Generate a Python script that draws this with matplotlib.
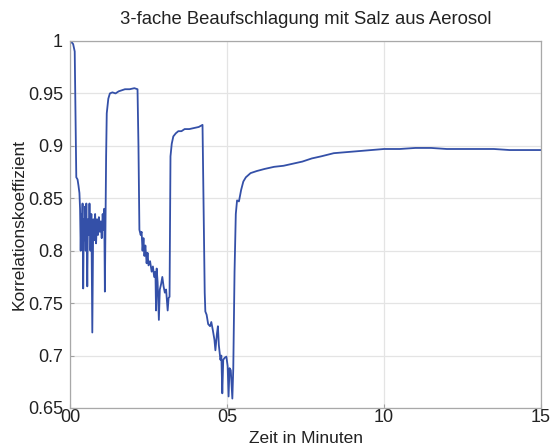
import matplotlib
matplotlib.use("Agg")
import matplotlib.pyplot as plt

plt.rcParams['font.family'] = ['Liberation Sans', 'DejaVu Sans']

# Zeit in Minuten und Korrelationskoeffizient
zeit = [0.00, 0.05, 0.10, 0.15, 0.18, 0.20, 0.24, 0.27, 0.30, 0.32,
        0.34, 0.36, 0.38, 0.40, 0.42, 0.44, 0.46, 0.48, 0.50, 0.52,
        0.55, 0.57, 0.60, 0.62, 0.65, 0.68, 0.71, 0.74, 0.77, 0.80,
        0.83, 0.86, 0.89, 0.92, 0.95, 0.98, 1.01, 1.04, 1.07, 1.09,
        1.11, 1.13, 1.15, 1.17, 1.22, 1.27, 1.35, 1.45, 1.55, 1.65,
        1.75, 1.90, 2.05, 2.15, 2.18, 2.21, 2.25, 2.28, 2.31, 2.34,
        2.37, 2.40, 2.44, 2.47, 2.50, 2.55, 2.60, 2.64, 2.68, 2.72,
        2.74, 2.76, 2.79, 2.83, 2.86, 2.90, 2.94, 2.98, 3.02, 3.06,
        3.11, 3.14, 3.17, 3.20, 3.24, 3.29, 3.37, 3.45, 3.55, 3.65,
        3.80, 3.95, 4.10, 4.22, 4.25, 4.29, 4.31, 4.35, 4.40, 4.46,
        4.50, 4.55, 4.60, 4.63, 4.68, 4.71, 4.74, 4.79, 4.82, 4.85,
        4.88, 4.93, 4.98, 5.02, 5.05, 5.08, 5.12, 5.17, 5.20, 5.24,
        5.28, 5.32, 5.38, 5.45, 5.52, 5.60, 5.75, 5.95, 6.20, 6.50,
        6.80, 7.10, 7.40, 7.70, 8.00, 8.40, 8.80, 9.20, 9.60, 10.00,
        10.50, 11.00, 11.50, 12.00, 12.50, 13.00, 13.50, 14.00, 14.50, 15.00]
korr = [0.998, 0.999, 0.997, 0.990, 0.920, 0.870, 0.868, 0.862, 0.855, 0.840,
        0.800, 0.835, 0.820, 0.845, 0.764, 0.830, 0.810, 0.842, 0.800, 0.845,
        0.766, 0.830, 0.815, 0.845, 0.800, 0.835, 0.722, 0.830, 0.810, 0.835,
        0.807, 0.830, 0.815, 0.832, 0.818, 0.828, 0.812, 0.835, 0.820, 0.840,
        0.761, 0.830, 0.890, 0.931, 0.945, 0.950, 0.951, 0.950, 0.952, 0.953,
        0.954, 0.954, 0.955, 0.954, 0.900, 0.820, 0.815, 0.818, 0.800, 0.812,
        0.795, 0.805, 0.788, 0.798, 0.786, 0.790, 0.780, 0.785, 0.775, 0.780,
        0.743, 0.783, 0.770, 0.734, 0.763, 0.768, 0.775, 0.766, 0.760, 0.763,
        0.743, 0.755, 0.756, 0.890, 0.902, 0.909, 0.912, 0.914, 0.914, 0.916,
        0.916, 0.917, 0.918, 0.920, 0.850, 0.760, 0.742, 0.739, 0.730, 0.728,
        0.732, 0.724, 0.715, 0.705, 0.721, 0.728, 0.710, 0.696, 0.700, 0.664,
        0.696, 0.698, 0.699, 0.690, 0.661, 0.688, 0.686, 0.659, 0.688, 0.780,
        0.835, 0.848, 0.847, 0.858, 0.866, 0.870, 0.874, 0.876, 0.878, 0.880,
        0.881, 0.883, 0.885, 0.888, 0.890, 0.893, 0.894, 0.895, 0.896, 0.897,
        0.897, 0.898, 0.898, 0.897, 0.897, 0.897, 0.897, 0.896, 0.896, 0.896]

x_ticks = [0, 5, 10, 15]
x_ticklabels = ["00", "05", "10", "15"]
y_ticks = [0.65, 0.7, 0.75, 0.8, 0.85, 0.9, 0.95, 1.0]
y_ticklabels = ["0.65", "0.7", "0.75", "0.8", "0.85", "0.9", "0.95", "1"]

fig = plt.figure(figsize=(5.53, 4.48), dpi=100)
ax = fig.add_axes([0.1266, 0.0893, 0.8517, 0.8192])

ax.plot(zeit, korr, color='#3450a8', linewidth=1.3)

ax.set_xlim(0, 15)
ax.set_ylim(0.65, 1.0)
ax.set_xticks(x_ticks)
ax.set_xticklabels(x_ticklabels)
ax.set_yticks(y_ticks)
ax.set_yticklabels(y_ticklabels)
ax.tick_params(direction='in', length=3, color='#a0a0a0', labelsize=13,
               labelcolor='#222222')
ax.tick_params(axis='y', pad=5)
ax.tick_params(axis='x', pad=1)
ax.grid(True, color='#e4e4e4', linewidth=0.9)
ax.set_axisbelow(True)
for s in ax.spines.values():
    s.set_color('#a8a8a8')
    s.set_linewidth(0.9)

ax.set_title("3-fache Beaufschlagung mit Salz aus Aerosol", fontsize=13.3,
             pad=12, color='#222222')
ax.set_xlabel("Zeit in Minuten", fontsize=12.5, labelpad=3, color='#222222')
ax.set_ylabel("Korrelationskoeffizient", fontsize=12.5, labelpad=1,
              color='#222222')

fig.savefig("out.png", dpi=100)
